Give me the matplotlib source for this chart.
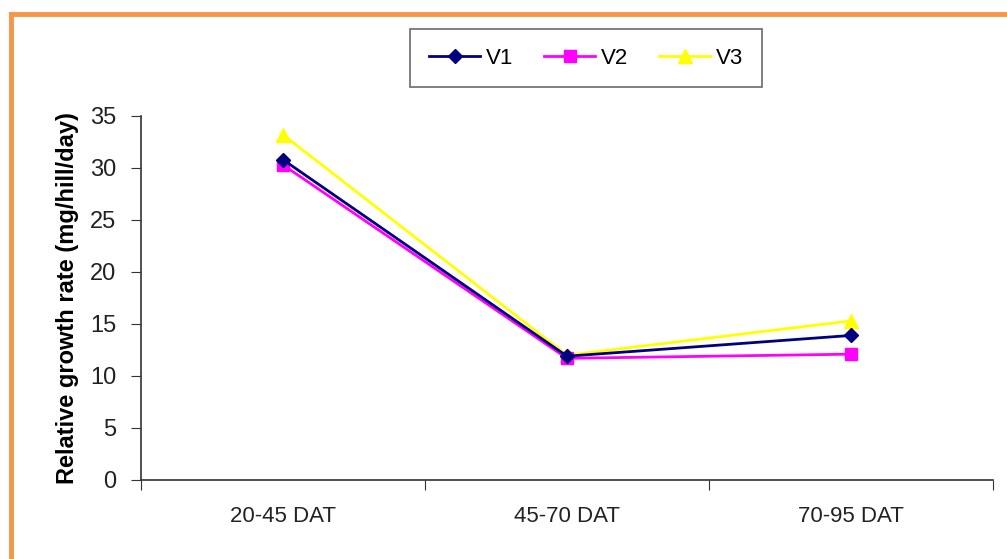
import matplotlib
matplotlib.use("Agg")
import matplotlib.pyplot as plt
from matplotlib.lines import Line2D
import numpy as np

categories = ["20-45 DAT", "45-70 DAT", "70-95 DAT"]
v1 = [30.8, 11.9, 13.9]
v2 = [30.3, 11.7, 12.1]
v3 = [33.2, 12.0, 15.3]
series_names = ["V1", "V2", "V3"]
yticks = [0, 5, 10, 15, 20, 25, 30, 35]

plt.rcParams['font.family'] = ['Liberation Sans', 'DejaVu Sans']

fig = plt.figure(figsize=(10.07, 5.59), dpi=100)
ax = fig.add_axes([141/1007, 1-480/559, (993-141)/1007, (480-116)/559])

x = np.arange(len(categories))
ax.plot(x, v1, color="#000080", lw=2, marker="D", ms=7, mfc="#000080", mec="#000080", label=series_names[0], zorder=3)
ax.plot(x, v2, color="#FF00FF", lw=2, marker="s", ms=9, mfc="#FF00FF", mec="#FF00FF", label=series_names[1], zorder=2)
ax.plot(x, v3, color="#FFFF00", lw=2, marker="^", ms=10, mfc="#FFFF00", mec="#FFFF00", label=series_names[2], zorder=1)

ax.set_xlim(-0.5, len(categories) - 0.5)
ax.set_ylim(0, 35)
ax.set_yticks(yticks)
ax.set_yticklabels([str(t) for t in yticks], fontsize=17, color="#222222")
ax.set_xticks(np.arange(len(categories) + 1) - 0.5)
ax.set_xticklabels([])
ax.set_xticks(x, minor=True)
ax.set_xticklabels(categories, minor=True, fontsize=16, color="#222222")
ax.tick_params(axis='x', which='minor', length=0, pad=19)
ax.tick_params(axis='x', which='major', length=7, direction='out', color="#333333")
ax.tick_params(axis='y', length=7, direction='out', color="#333333", pad=11)
for s in ['top', 'right']:
    ax.spines[s].set_visible(False)
for s in ['left', 'bottom']:
    ax.spines[s].set_color("#333333")
    ax.spines[s].set_linewidth(1.2)

ax.set_ylabel("Relative growth rate (mg/hill/day)", fontsize=17, fontweight='bold', labelpad=8)

leg = ax.legend(loc='center', bbox_to_anchor=(586/1007, 1-58/559), bbox_transform=fig.transFigure,
                ncol=3, frameon=True, fancybox=False, fontsize=16, handlelength=2.3,
                columnspacing=1.4, handletextpad=0.25, borderpad=0.85, borderaxespad=0)
leg.get_frame().set_edgecolor("#444444")
leg.get_frame().set_linewidth(1.2)

# orange border (top and left)
fig.add_artist(Line2D([11/1007, 1.0], [1-14/559, 1-14/559], transform=fig.transFigure, color="#F79646", lw=3.5))
fig.add_artist(Line2D([11/1007, 11/1007], [0, 1-14/559], transform=fig.transFigure, color="#F79646", lw=3.5))

fig.savefig("out.png", dpi=100)
